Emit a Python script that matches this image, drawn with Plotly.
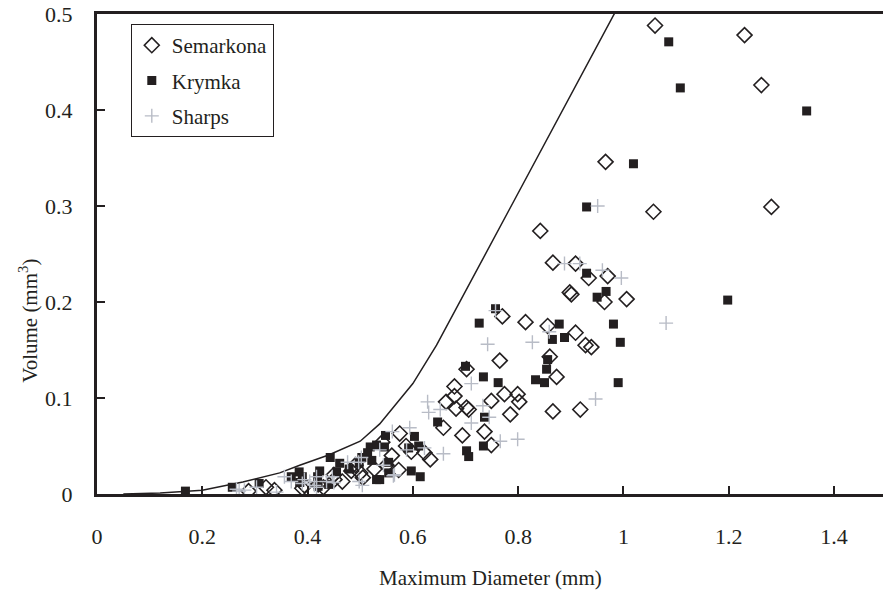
import plotly.graph_objects as go

# ---- data ----
semarkona_x = [1.060, 1.230, 1.262, 1.281, 0.966, 1.057, 0.842, 0.866, 0.909, 0.934, 0.970, 0.898, 0.901,
               0.964, 1.006, 0.770, 0.814, 0.856, 0.909, 0.928, 0.939, 0.765, 0.702, 0.860, 0.873, 0.679,
               0.679, 0.663, 0.682, 0.702, 0.706, 0.749, 0.774, 0.799, 0.802, 0.785, 0.866, 0.918, 0.658,
               0.694, 0.736, 0.749, 0.575, 0.587, 0.597, 0.622, 0.633, 0.573, 0.542, 0.527, 0.491, 0.483,
               0.451, 0.466, 0.394, 0.288, 0.321, 0.337, 0.390, 0.420, 0.430, 0.450, 0.500, 0.505, 0.550,
               0.560]
semarkona_y = [0.488, 0.478, 0.426, 0.299, 0.346, 0.294, 0.274, 0.241, 0.240, 0.225, 0.227, 0.210, 0.208,
               0.200, 0.203, 0.185, 0.179, 0.175, 0.168, 0.155, 0.153, 0.139, 0.130, 0.143, 0.122, 0.112,
               0.102, 0.096, 0.089, 0.090, 0.088, 0.097, 0.104, 0.104, 0.096, 0.083, 0.086, 0.088, 0.069,
               0.061, 0.065, 0.051, 0.063, 0.050, 0.044, 0.043, 0.036, 0.025, 0.054, 0.026, 0.030, 0.024,
               0.015, 0.013, 0.009, 0.003, 0.007, 0.004, 0.006, 0.010, 0.007, 0.020, 0.022, 0.017, 0.030,
               0.040]

krymka_x = [1.086, 1.108, 1.348, 1.019, 0.930, 0.930, 0.950, 0.967, 1.198, 0.878, 0.865, 0.888, 0.981,
            0.994, 0.757, 0.726, 0.990, 0.700, 0.734, 0.762, 0.856, 0.854, 0.833, 0.850, 0.736, 0.647,
            0.734, 0.702, 0.706, 0.548, 0.546, 0.603, 0.592, 0.611, 0.554, 0.554, 0.597, 0.614, 0.537,
            0.519, 0.531, 0.514, 0.522, 0.498, 0.531, 0.443, 0.461, 0.423, 0.419, 0.384, 0.390, 0.455,
            0.168, 0.257, 0.308, 0.369, 0.385, 0.420, 0.440, 0.479, 0.503]
krymka_y = [0.471, 0.423, 0.399, 0.344, 0.299, 0.230, 0.205, 0.211, 0.202, 0.177, 0.161, 0.163, 0.177,
            0.158, 0.193, 0.178, 0.116, 0.133, 0.122, 0.116, 0.140, 0.130, 0.119, 0.116, 0.080, 0.075,
            0.050, 0.045, 0.039, 0.061, 0.049, 0.060, 0.048, 0.050, 0.033, 0.022, 0.024, 0.018, 0.015,
            0.049, 0.051, 0.043, 0.035, 0.032, 0.015, 0.038, 0.032, 0.024, 0.018, 0.023, 0.018, 0.023,
            0.003, 0.007, 0.011, 0.018, 0.012, 0.008, 0.010, 0.026, 0.038]

sharps_x = [1.081, 0.951, 0.888, 0.917, 0.960, 0.996, 0.827, 0.859, 0.757, 0.742, 0.947, 0.711, 0.628,
            0.630, 0.652, 0.733, 0.745, 0.711, 0.766, 0.799, 0.658, 0.594, 0.561, 0.622, 0.565, 0.544,
            0.537, 0.502, 0.497, 0.476, 0.563, 0.588, 0.498, 0.504, 0.447, 0.436, 0.404, 0.394, 0.413,
            0.265, 0.303, 0.341, 0.356, 0.369, 0.390, 0.417, 0.417, 0.280, 0.270, 0.450]
sharps_y = [0.178, 0.300, 0.240, 0.240, 0.233, 0.225, 0.158, 0.169, 0.191, 0.156, 0.099, 0.115, 0.096,
            0.085, 0.088, 0.092, 0.080, 0.074, 0.055, 0.057, 0.042, 0.069, 0.065, 0.048, 0.020, 0.030,
            0.046, 0.038, 0.033, 0.033, 0.019, 0.046, 0.013, 0.009, 0.018, 0.013, 0.013, 0.015, 0.009,
            0.005, 0.007, 0.002, 0.018, 0.013, 0.011, 0.018, 0.007, 0.004, 0.003, 0.012]

limit_x = [0.05, 0.12, 0.20, 0.277, 0.347, 0.385, 0.44, 0.50, 0.537, 0.575, 0.60, 0.645, 0.694,
           0.765, 0.846, 1.00]
limit_y = [0.0, 0.001, 0.004, 0.0125, 0.022, 0.030, 0.0406, 0.055, 0.073, 0.098, 0.115, 0.155, 0.205,
           0.277, 0.360, 0.518]

x_ticks = [0, 0.2, 0.4, 0.6, 0.8, 1.0, 1.2, 1.4]
x_tick_text = ["0", "0.2", "0.4", "0.6", "0.8", "1", "1.2", "1.4"]
y_ticks = [0, 0.1, 0.2, 0.3, 0.4, 0.5]
y_tick_text = ["0", "0.1", "0.2", "0.3", "0.4", "0.5"]

FONT = "Liberation Serif, Times New Roman, serif"
INK = "#231f20"

fig = go.Figure()
fig.add_trace(go.Scatter(x=limit_x, y=limit_y, mode="lines", showlegend=False,
                         line=dict(color=INK, width=1.5), hoverinfo="skip"))
fig.add_trace(go.Scatter(x=semarkona_x, y=semarkona_y, mode="markers", name="Semarkona",
                         legendgroup="a",
                         marker=dict(symbol="diamond-open", size=11.5, color=INK, line=dict(width=1.6, color=INK))))
fig.add_trace(go.Scatter(x=krymka_x, y=krymka_y, mode="markers", name="Krymka", legendgroup="b",
                         marker=dict(symbol="square", size=9, color=INK, line=dict(width=0))))
fig.add_trace(go.Scatter(x=sharps_x, y=sharps_y, mode="markers", name="Sharps", legendgroup="c",
                         marker=dict(symbol="cross-thin-open", size=10, color="#b8bcc6",
                                     line=dict(width=1.4, color="#b8bcc6"))))

fig.update_layout(
    width=883, height=595,
    margin=dict(l=97, r=0, t=14, b=101),
    paper_bgcolor="white", plot_bgcolor="white",
    font=dict(family=FONT, size=20, color=INK),
    legend=dict(x=0.043, y=0.979, xanchor="left", yanchor="top",
                bordercolor=INK, borderwidth=1, bgcolor="white",
                font=dict(family=FONT, size=21, color=INK),
                tracegroupgap=5, itemsizing="trace"),
    xaxis=dict(range=[0, 1.493], tickvals=x_ticks, ticktext=x_tick_text,
               showgrid=False, zeroline=False, showline=True, linewidth=3, linecolor=INK,
               mirror=True, ticks="inside", ticklen=8, tickwidth=2, tickcolor=INK,
               ticklabelstandoff=21, tickfont=dict(family=FONT, size=22, color=INK)),
    yaxis=dict(range=[0, 0.5], tickvals=y_ticks, ticktext=y_tick_text,
               showgrid=False, zeroline=False, showline=True, linewidth=3, linecolor=INK,
               ticks="inside", ticklen=8, tickwidth=2, tickcolor=INK,
               ticklabelstandoff=17, tickfont=dict(family=FONT, size=22, color=INK)),
)

fig.add_annotation(text="Maximum Diameter (mm)", xref="paper", yref="paper",
                   x=0.5, y=-0.175, xanchor="center", yanchor="middle", showarrow=False,
                   font=dict(family=FONT, size=21, color=INK))
fig.add_annotation(text="Volume (mm<sup>3</sup>)", xref="paper", yref="paper",
                   x=-0.087, y=0.36, xanchor="center", yanchor="middle", showarrow=False,
                   textangle=-90, font=dict(family=FONT, size=21, color=INK))

fig.write_html("out.html")
